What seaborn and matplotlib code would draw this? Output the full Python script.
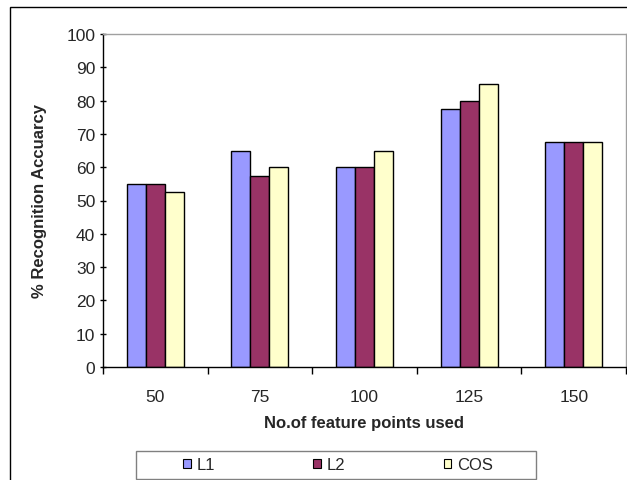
import matplotlib.pyplot as plt
import matplotlib.patches as mpatches
import seaborn as sns
import pandas as pd

# data
feature_points = ['50', '75', '100', '125', '150']
l1_acc = [55, 65, 60, 77.5, 67.5]
l2_acc = [55, 57.5, 60, 80, 67.5]
cos_acc = [52.5, 60, 65, 85, 67.5]
series_names = ['L1', 'L2', 'COS']
series_colors = ['#9999FF', '#993366', '#FFFFCC']

df = pd.DataFrame({
    'points': feature_points * 3,
    'acc': l1_acc + l2_acc + cos_acc,
    'metric': [s for s in series_names for _ in feature_points],
})

sns.set_theme(style='white')
plt.rcParams['font.family'] = ['Liberation Sans', 'DejaVu Sans']

fig = plt.figure(figsize=(6.27, 4.81), dpi=100)
ax = fig.add_axes([103 / 627, 1 - 368 / 481, 523 / 627, 333 / 481])

sns.barplot(data=df, x='points', y='acc', hue='metric', order=feature_points,
            hue_order=series_names, palette=series_colors, width=0.545,
            edgecolor='black', linewidth=1.0, saturation=1, ax=ax, legend=False)

ax.set_ylim(0, 100)
ax.set_xlim(-0.5, 4.5)
ax.set_yticks(range(0, 101, 10))
ax.set_xlabel('No.of feature points used', fontsize=12, fontweight='bold', labelpad=8)
ax.set_ylabel('% Recognition Accuarcy', fontsize=12, fontweight='bold', labelpad=14)

ax.tick_params(axis='y', which='major', left=True, length=5, width=1, color='black',
               labelsize=12.5, pad=3, direction='inout')
ax.tick_params(axis='x', which='major', bottom=False, labelsize=12.5, pad=10)
ax.set_xticks([-0.5, 0.5, 1.5, 2.5, 3.5, 4.5], minor=True)
ax.tick_params(axis='x', which='minor', bottom=True, length=5, width=1, color='black',
               direction='out')

for side in ['left', 'bottom']:
    ax.spines[side].set_color('black')
    ax.spines[side].set_linewidth(1.0)
for side in ['top', 'right']:
    ax.spines[side].set_color('#A0A0A0')
    ax.spines[side].set_linewidth(1.0)

# legend below the axis, with its own box
handles = [mpatches.Patch(facecolor=c, edgecolor='black', linewidth=0.8, label=n)
           for n, c in zip(series_names, series_colors)]
leg = fig.legend(handles=handles, ncol=3, loc='center',
                 bbox_to_anchor=(338 / 627, 1 - 466 / 481),
                 bbox_transform=fig.transFigure, fontsize=12, frameon=False,
                 handlelength=0.45, handleheight=0.45, handletextpad=0.35,
                 columnspacing=5.9, borderpad=0)
fig.patches.append(mpatches.Rectangle((136 / 627, 1 / 481), 400 / 627, 28 / 481,
                                      transform=fig.transFigure, fill=False,
                                      edgecolor='#808080', linewidth=1.0))

# outer chart frame
fig.patches.append(mpatches.Rectangle((10 / 627, -0.05), 1.0, 1 - 8 / 481 + 0.05,
                                      transform=fig.transFigure, fill=False,
                                      edgecolor='black', linewidth=1.0))

fig.savefig('out.png', dpi=100)
